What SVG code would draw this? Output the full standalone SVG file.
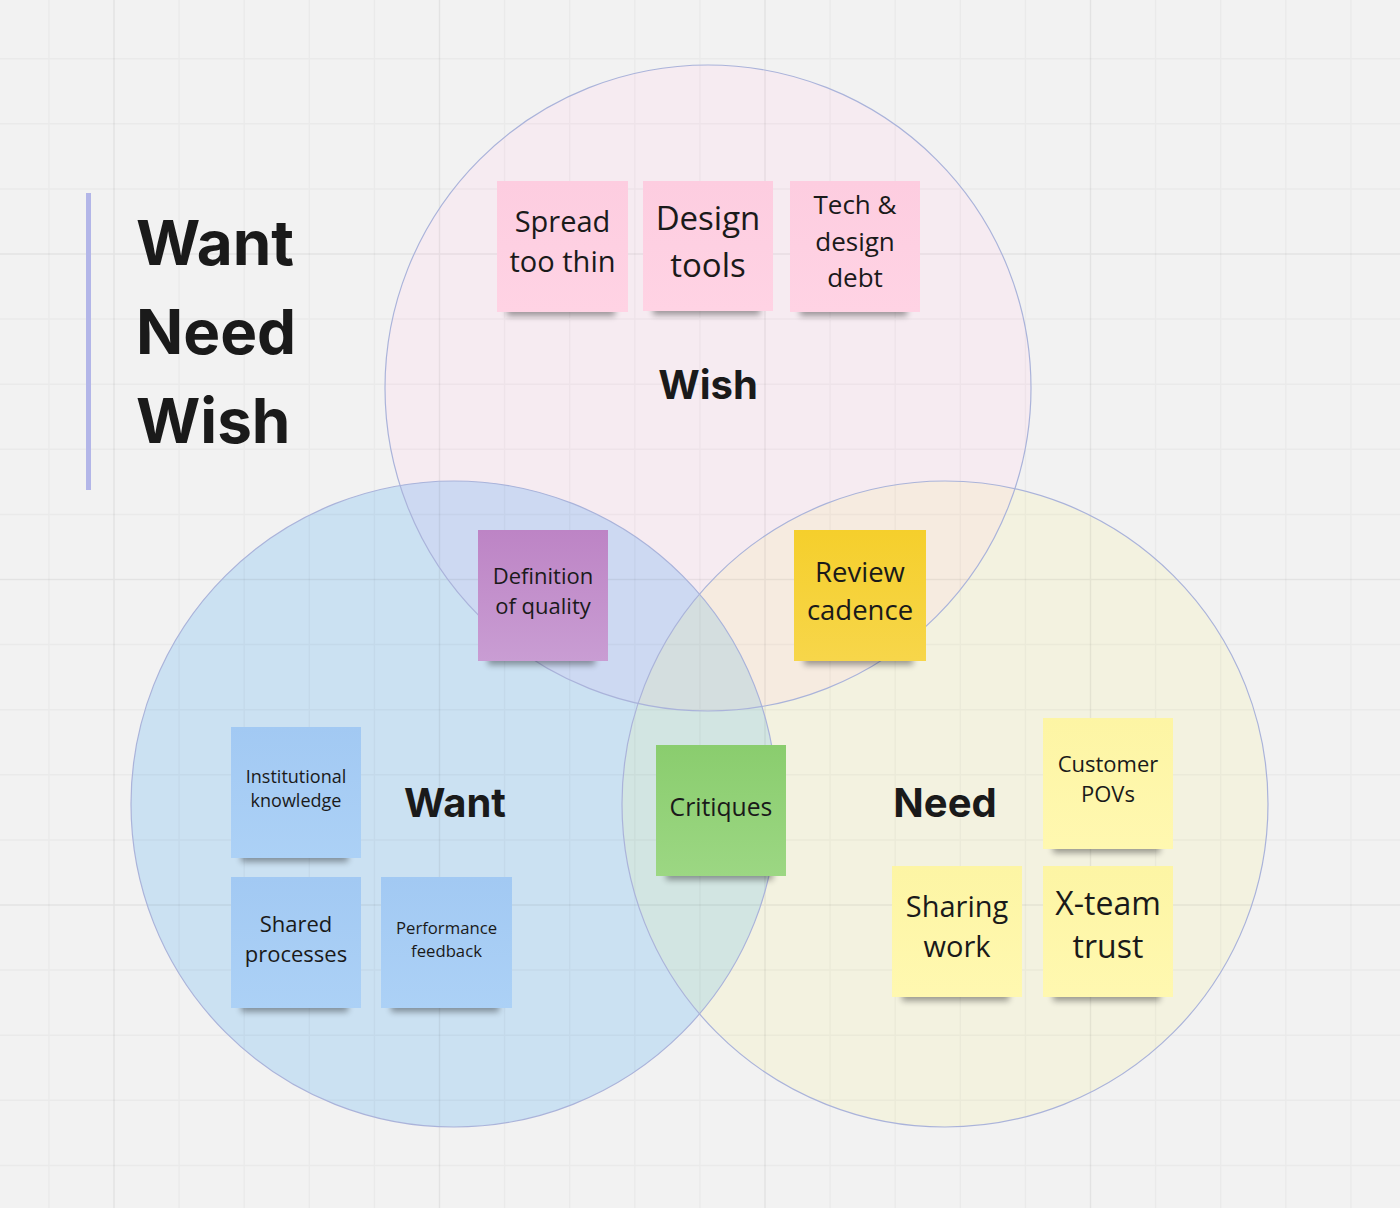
<svg xmlns="http://www.w3.org/2000/svg" width="1400" height="1208" viewBox="0 0 1400 1208">
<style>
.st{font-family:"Open Sans","Noto Sans",sans-serif;fill:#1a1a1a;text-anchor:middle}
.lbl{font-family:Inter,"Noto Sans",sans-serif;font-weight:700;fill:#1a1a1a;text-anchor:middle;font-size:40px}
.ttl{font-family:Inter,"Noto Sans",sans-serif;font-weight:700;fill:#1a1a1a;font-size:62px}
.ring{fill:none;stroke:#aab3da;stroke-width:1.2}
.shd{fill:#000;opacity:.36;filter:url(#sh)}
</style>
<defs>
<filter id="sh" x="-20%" y="-100%" width="140%" height="300%"><feGaussianBlur stdDeviation="3.2"/></filter>
<clipPath id="cWish"><circle cx="708" cy="388" r="323"/></clipPath>
<clipPath id="cWant"><circle cx="454" cy="804" r="323"/></clipPath>
<linearGradient id="gPink" x1="0" y1="0" x2="0" y2="1"><stop offset="0" stop-color="#fdcde0"/><stop offset="1" stop-color="#ffd3e4"/></linearGradient>
<linearGradient id="gPurple" x1="0" y1="0" x2="0" y2="1"><stop offset="0" stop-color="#bd84c5"/><stop offset="1" stop-color="#c99dd3"/></linearGradient>
<linearGradient id="gGold" x1="0" y1="0" x2="0" y2="1"><stop offset="0" stop-color="#f5cf2c"/><stop offset="1" stop-color="#f7d64a"/></linearGradient>
<linearGradient id="gBlue" x1="0" y1="0" x2="0" y2="1"><stop offset="0" stop-color="#a2c9f3"/><stop offset="1" stop-color="#acd1f6"/></linearGradient>
<linearGradient id="gGreen" x1="0" y1="0" x2="0" y2="1"><stop offset="0" stop-color="#8acd6e"/><stop offset="1" stop-color="#9cd783"/></linearGradient>
<linearGradient id="gLemon" x1="0" y1="0" x2="0" y2="1"><stop offset="0" stop-color="#fdf5a4"/><stop offset="1" stop-color="#fff8b0"/></linearGradient>
</defs>
<rect width="1400" height="1208" fill="#f2f2f2"/>
<g id="circles">
<circle cx="708" cy="388" r="323" fill="#f6ebf1"/>
<circle cx="454" cy="804" r="323" fill="#cbe1f2"/>
<circle cx="945" cy="804" r="323" fill="#f3f2e0"/>
<g clip-path="url(#cWish)"><circle cx="454" cy="804" r="323" fill="#cdd9f2"/><circle cx="945" cy="804" r="323" fill="#f6ebe0"/></g>
<g clip-path="url(#cWant)"><circle cx="945" cy="804" r="323" fill="#d2e5e2"/></g>
<g clip-path="url(#cWish)"><g clip-path="url(#cWant)"><circle cx="945" cy="804" r="323" fill="#d4dedf"/></g></g>
</g>
<g id="grid" fill="none">
<path stroke="#000" stroke-opacity="0.03" stroke-width="1.5" d="M48.9 0V1208M179.1 0V1208M244.2 0V1208M309.3 0V1208M374.4 0V1208M504.6 0V1208M569.7 0V1208M634.8 0V1208M699.9 0V1208M830.1 0V1208M895.2 0V1208M960.3 0V1208M1025.4 0V1208M1155.6 0V1208M1220.7 0V1208M1285.8 0V1208M1350.9 0V1208M0 58.7H1400M0 123.8H1400M0 188.9H1400M0 319.1H1400M0 384.2H1400M0 449.3H1400M0 514.4H1400M0 644.6H1400M0 709.7H1400M0 774.8H1400M0 839.9H1400M0 970.1H1400M0 1035.2H1400M0 1100.3H1400M0 1165.4H1400"/>
<path stroke="#000" stroke-opacity="0.06" stroke-width="1.5" d="M114 0V1208M439.5 0V1208M765 0V1208M1090.5 0V1208M0 254H1400M0 579.5H1400M0 905H1400"/>
</g>
<g id="rings">
<circle class="ring" cx="708" cy="388" r="323"/>
<circle class="ring" cx="454" cy="804" r="323"/>
<circle class="ring" cx="945" cy="804" r="323"/>
</g>
<g id="title">
<rect x="86" y="193" width="5" height="297" fill="#b3b6e8"/>
<text class="ttl" x="136" y="265">Want</text>
<text class="ttl" x="136" y="354">Need</text>
<text class="ttl" x="136" y="443">Wish</text>
</g>
<g id="label-wish"><text class="lbl" x="708" y="399">Wish</text></g>
<g id="label-want"><text class="lbl" x="455" y="817">Want</text></g>
<g id="label-need"><text class="lbl" x="945" y="817">Need</text></g>
<g id="connectors"/>
<g id="note-spread">
<rect class="shd" x="507" y="302" width="108" height="14"/>
<rect x="497" y="181" width="131" height="131" fill="url(#gPink)"/>
<text class="st" font-size="29" x="562.5" y="232">Spread</text>
<text class="st" font-size="29" x="562.5" y="272">too thin</text>
</g>
<g id="note-design-tools">
<rect class="shd" x="653" y="301" width="107" height="14"/>
<rect x="643" y="181" width="130" height="130" fill="url(#gPink)"/>
<text class="st" font-size="33" x="708" y="230">Design</text>
<text class="st" font-size="33" x="708" y="277">tools</text>
</g>
<g id="note-tech-debt">
<rect class="shd" x="800" y="302" width="107" height="14"/>
<rect x="790" y="181" width="130" height="131" fill="url(#gPink)"/>
<text class="st" font-size="26" x="855" y="214">Tech &amp;</text>
<text class="st" font-size="26" x="855" y="251">design</text>
<text class="st" font-size="26" x="855" y="287">debt</text>
</g>
<g id="note-definition">
<rect class="shd" x="488" y="651" width="107" height="14"/>
<rect x="478" y="530" width="130" height="131" fill="url(#gPurple)"/>
<text class="st" font-size="22" x="543" y="584">Definition</text>
<text class="st" font-size="22" x="543" y="614">of quality</text>
</g>
<g id="note-review">
<rect class="shd" x="804" y="651" width="109" height="14"/>
<rect x="794" y="530" width="132" height="131" fill="url(#gGold)"/>
<text class="st" font-size="27.5" x="860" y="582">Review</text>
<text class="st" font-size="27.5" x="860" y="620">cadence</text>
</g>
<g id="note-institutional">
<rect class="shd" x="241" y="848" width="107" height="14"/>
<rect x="231" y="727" width="130" height="131" fill="url(#gBlue)"/>
<text class="st" font-size="18" x="296" y="783">Institutional</text>
<text class="st" font-size="18" x="296" y="807">knowledge</text>
</g>
<g id="note-shared">
<rect class="shd" x="241" y="998" width="107" height="14"/>
<rect x="231" y="877" width="130" height="131" fill="url(#gBlue)"/>
<text class="st" font-size="22" x="296" y="932">Shared</text>
<text class="st" font-size="22" x="296" y="962">processes</text>
</g>
<g id="note-performance">
<rect class="shd" x="391" y="998" width="108" height="14"/>
<rect x="381" y="877" width="131" height="131" fill="url(#gBlue)"/>
<text class="st" font-size="16.7" x="446.5" y="934">Performance</text>
<text class="st" font-size="16.7" x="446.5" y="957">feedback</text>
</g>
<g id="note-critiques">
<rect class="shd" x="666" y="866" width="107" height="14"/>
<rect x="656" y="745" width="130" height="131" fill="url(#gGreen)"/>
<text class="st" font-size="24.7" x="721" y="816">Critiques</text>
</g>
<g id="note-customer">
<rect class="shd" x="1053" y="839" width="107" height="14"/>
<rect x="1043" y="718" width="130" height="131" fill="url(#gLemon)"/>
<text class="st" font-size="22" x="1108" y="772">Customer</text>
<text class="st" font-size="22" x="1108" y="802">POVs</text>
</g>
<g id="note-sharing">
<rect class="shd" x="902" y="987" width="107" height="14"/>
<rect x="892" y="866" width="130" height="131" fill="url(#gLemon)"/>
<text class="st" font-size="29" x="957" y="917">Sharing</text>
<text class="st" font-size="29" x="957" y="957">work</text>
</g>
<g id="note-xteam">
<rect class="shd" x="1053" y="987" width="107" height="14"/>
<rect x="1043" y="866" width="130" height="131" fill="url(#gLemon)"/>
<text class="st" font-size="32" x="1108" y="915">X-team</text>
<text class="st" font-size="32" x="1108" y="958">trust</text>
</g>
</svg>
